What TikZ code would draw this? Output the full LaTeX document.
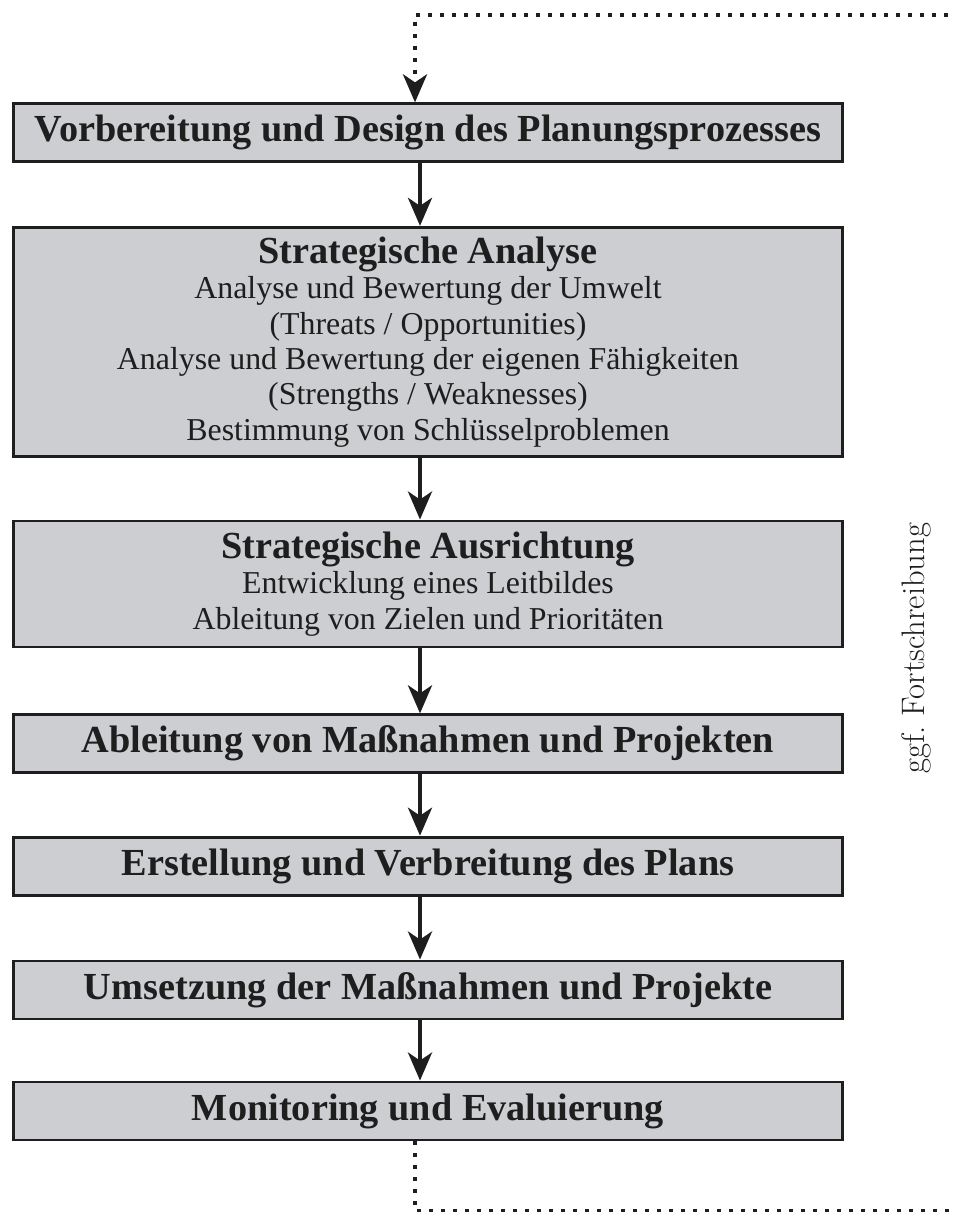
\documentclass[tikz,border=0pt]{standalone}
\usepackage{fontspec}
\newfontfamily\timesfont{Liberation Serif}
\usetikzlibrary{arrows.meta}

\definecolor{boxgray}{HTML}{CDCED1}
\definecolor{inkgray}{HTML}{1E1E1E}

\begin{document}
\begin{tikzpicture}[x=0.75pt,y=-0.75pt]

\tikzstyle{stage} = [draw=inkgray, line width=2.2pt, fill=boxgray, text=inkgray, minimum width=622pt, inner sep=0pt, align=center, font=\timesfont\fontsize{23.9}{26.5}\selectfont]
\tikzstyle{stagetitle} = [font=\timesfont\bfseries\fontsize{28.7}{32}\selectfont]
\tikzstyle{flow} = [-{Stealth[length=21pt, width=18pt, inset=6pt]}, line width=3pt, draw=inkgray]
\tikzstyle{feedback} = [-{Stealth[length=21pt, width=18pt, inset=6pt]}, line width=3pt, draw=inkgray, dash pattern=on 3pt off 6pt]

\useasboundingbox (0,0) rectangle (954,1212);

%------------------------------------------------------------
	\node[stage, stagetitle, minimum height=43pt] (vorb) at (428,132.5) {Vorbereitung und Design des Planungsprozesses};
	\node[stage, minimum height=172pt] (analyse) at (428,342) {{\bfseries\fontsize{28.7}{32}\selectfont Strategische Analyse}\\
		Analyse und Bewertung der Umwelt\\
		(Threats / Opportunities)\\
		Analyse und Bewertung der eigenen Fähigkeiten\\
		(Strengths / Weaknesses)\\
		Bestimmung von Schlüsselproblemen};
	\node[stage, minimum height=94.5pt] (ausr) at (428,584) {{\bfseries\fontsize{28.7}{32}\selectfont Strategische Ausrichtung}\\
		Entwicklung eines Leitbildes\\
		Ableitung von Zielen und Prioritäten};
	\node[stage, stagetitle, minimum height=43pt] (massn) at (428,743.5) {Ableitung von Maßnahmen und Projekten};
	\node[stage, stagetitle, minimum height=44pt] (plan) at (428,866.5) {Erstellung und Verbreitung des Plans};
	\node[stage, stagetitle, minimum height=43.5pt] (umsetz) at (428,990) {Umsetzung der Maßnahmen und Projekte};
	\node[stage, stagetitle, minimum height=43.5pt] (monit) at (428,1111) {Monitoring und Evaluierung};

%------------------------------------------------------------
	\node[rotate=90, text=inkgray, font=\fontsize{24.4}{28}\selectfont] (fortschr) at (916,648) {ggf.\ Fortschreibung};

	\coordinate (ax) at (420,0);
	\coordinate (fx) at (415,0);
	\coordinate (topright) at (960,15);
	\coordinate (topleft) at (415,15);
	\coordinate (botleft) at (415,1211);
	\coordinate (botright) at (960,1211);

%------------------------------------------------------------
	\draw[flow] (vorb.south -| ax) -- (analyse.north -| ax);
	\draw[flow] (analyse.south -| ax) -- (ausr.north -| ax);
	\draw[flow] (ausr.south -| ax) -- (massn.north -| ax);
	\draw[flow] (massn.south -| ax) -- (plan.north -| ax);
	\draw[flow] (plan.south -| ax) -- (umsetz.north -| ax);
	\draw[flow] (umsetz.south -| ax) -- (monit.north -| ax);

	\draw[feedback] (topright) -- (topleft) -- (vorb.north -| fx);
	\draw[line width=3pt, draw=inkgray, dash pattern=on 3pt off 6pt] (monit.south -| fx) -- (botleft) -- (botright);

\end{tikzpicture}
\end{document}
